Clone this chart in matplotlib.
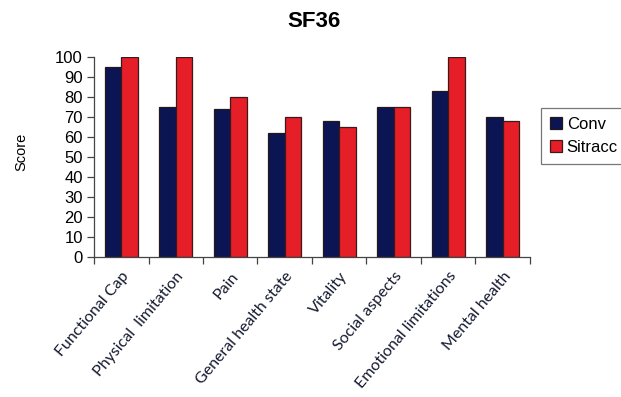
import numpy as np
import matplotlib.pyplot as plt

# SF36 domain scores for the two groups
categories = ["Functional Cap", "Physical  limitation", "Pain", "General health state",
              "Vitality", "Social aspects", "Emotional limitations", "Mental health"]
conv = [95, 75, 74, 62, 68, 75, 83, 70]
sitracc = [100, 100, 80, 70, 65, 75, 100, 68]
y_ticks = list(range(0, 101, 10))

plt.rcParams['font.family'] = ['Liberation Sans', 'DejaVu Sans']

fig = plt.figure(figsize=(6.21, 3.97), dpi=100)
ax = fig.add_axes([0.1514, 0.3534, 0.702, 0.504])

x = np.arange(len(categories))
w = 0.3
ax.bar(x - w / 2, conv, w, color='#0c1553', edgecolor='#241818', linewidth=0.9, label='Conv')
ax.bar(x + w / 2, sitracc, w, color='#e61e27', edgecolor='#3a1a1a', linewidth=0.9, label='Sitracc')

ax.set_xlim(-0.5, len(categories) - 0.5)
ax.set_ylim(0, 100)
ax.set_yticks(y_ticks)
ax.tick_params(axis='y', labelsize=12, length=5, width=0.9, color='#444444', pad=3)

# tick marks between groups, labels at group centres
ax.set_xticks(np.arange(-0.5, len(categories), 1.0))
ax.set_xticklabels([])
ax.tick_params(axis='x', which='major', length=5, width=0.9, color='#444444')
ax.set_xticks(x, minor=True)
ax.set_xticklabels(categories, minor=True, rotation=50, ha='right', va='top',
                   rotation_mode='anchor', fontsize=11.5, color='#151a30',
                   fontfamily=['Lato', 'DejaVu Sans'])
ax.tick_params(axis='x', which='minor', length=0, pad=9)

for side in ('top', 'right'):
    ax.spines[side].set_visible(False)
for side in ('left', 'bottom'):
    ax.spines[side].set_color('#444444')
    ax.spines[side].set_linewidth(0.9)

fig.text(0.035, 0.617, 'Score', rotation=90, ha='center', va='center', fontsize=10.5)
fig.text(0.505, 0.945, 'SF36', ha='center', va='center', fontsize=16, fontweight='bold')

leg = fig.legend(loc='upper left', bbox_to_anchor=(0.871, 0.728), bbox_transform=fig.transFigure,
                 fontsize=12, frameon=True, fancybox=False, borderaxespad=0,
                 handlelength=0.7, handleheight=0.7, handletextpad=0.3,
                 borderpad=0.55, labelspacing=0.45)
leg.get_frame().set_edgecolor('#555555')
leg.get_frame().set_linewidth(0.9)

fig.savefig('out.png', dpi=100)
